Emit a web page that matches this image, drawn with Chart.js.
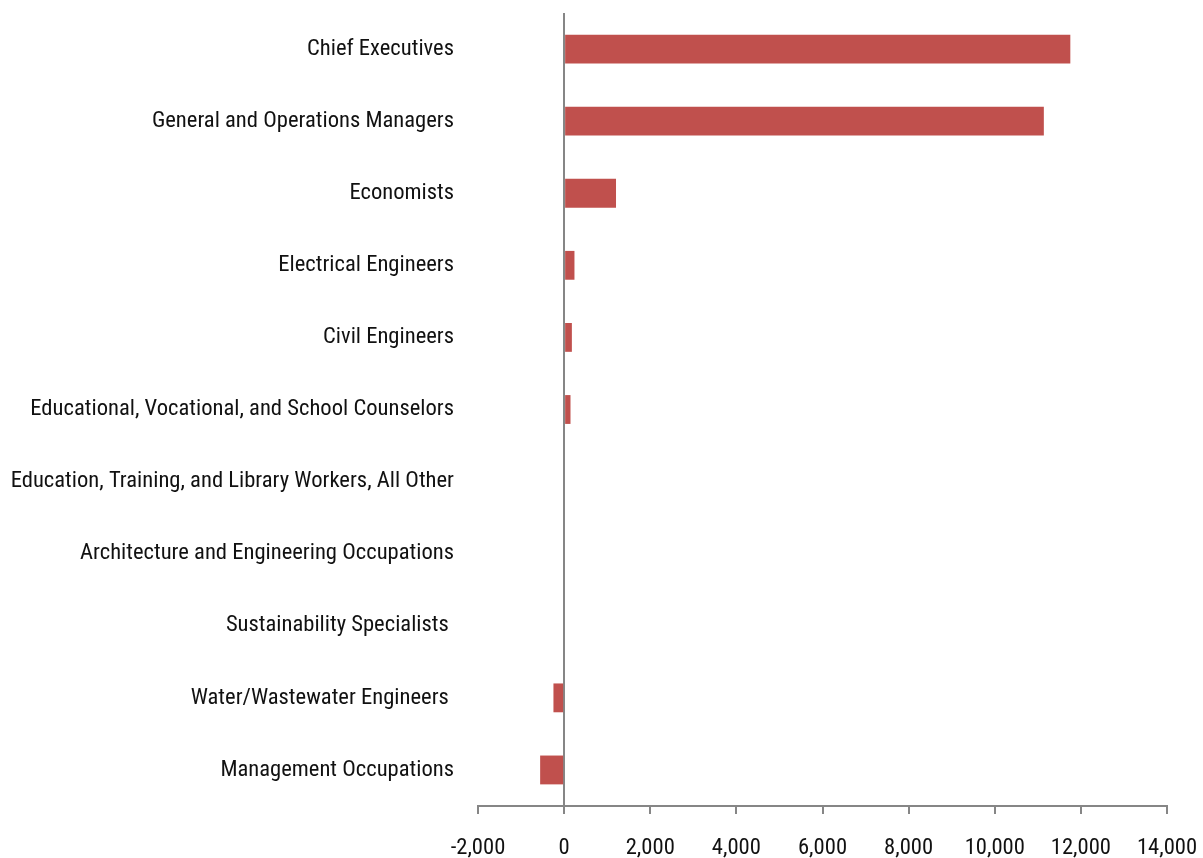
<!DOCTYPE html>
<html>
<head>
<meta charset="utf-8">
<script src="https://cdn.jsdelivr.net/npm/chart.js@4/dist/chart.umd.min.js"></script>
<style>
  html, body { margin: 0; padding: 0; background: #fff; }
  #wrap { width: 1203px; height: 858px; }
</style>
</head>
<body>
<div id="wrap"><canvas id="barChart" width="1203" height="858"></canvas></div>
<script>
const occupations = [
    "Chief Executives",
    "General and Operations Managers",
    "Economists",
    "Electrical Engineers",
    "Civil Engineers",
    "Educational, Vocational, and School Counselors",
    "Education, Training, and Library Workers, All Other",
    "Architecture and Engineering Occupations",
    "Sustainability Specialists ",
    "Water/Wastewater Engineers ",
    "Management Occupations"
];
const changeValues = [11755, 11140, 1205, 240, 180, 148, 0, 0, 0, -248, -557];
const xTicks = [-2000, 0, 2000, 4000, 6000, 8000, 10000, 12000, 14000];

const axisGray = "#868686";
// narrow face: the weight slot carries the "condensed" stretch keyword into the canvas font string
const labelFont = { family: "Roboto, 'Liberation Sans', sans-serif", size: 22.6, weight: "normal condensed", lineHeight: 1.2 };

new Chart(document.getElementById('barChart'), {
    type: 'bar',
    data: {
        labels: occupations,
        datasets: [{
            label: "",
            data: changeValues,
            backgroundColor: "#C0504D",
            categoryPercentage: 1,
            barPercentage: 0.4
        }]
    },
    options: {
        indexAxis: 'y',
        responsive: false,
        animation: false,
        layout: { padding: { top: 13, right: 36, bottom: 0, left: 0 } },
        plugins: {
            legend: { display: false },
            tooltip: { enabled: false }
        },
        scales: {
            x: {
                min: xTicks[0],
                max: xTicks[xTicks.length - 1],
                afterBuildTicks: scale => { scale.ticks = xTicks.map(v => ({ value: v })); },
                afterFit: scale => { scale.height = 52; scale.paddingLeft = 0; scale.paddingRight = 0; },
                border: { display: true, color: axisGray, width: 2 },
                grid: {
                    color: ctx => (ctx.tick && ctx.tick.value === 0) ? axisGray : 'transparent',
                    lineWidth: 2,
                    tickColor: axisGray,
                    tickLength: 8,
                    drawTicks: true
                },
                ticks: {
                    color: "#111",
                    font: labelFont,
                    padding: 21,
                    maxRotation: 0,
                    callback: v => v.toLocaleString('en-US')
                }
            },
            y: {
                border: { display: false },
                grid: { display: false, drawTicks: false },
                afterFit: scale => { scale.width = 478; scale.paddingTop = 0; scale.paddingBottom = 0; },
                ticks: {
                    color: "#111",
                    font: labelFont,
                    padding: 24,
                    autoSkip: false
                }
            }
        }
    }
});
</script>
</body>
</html>
